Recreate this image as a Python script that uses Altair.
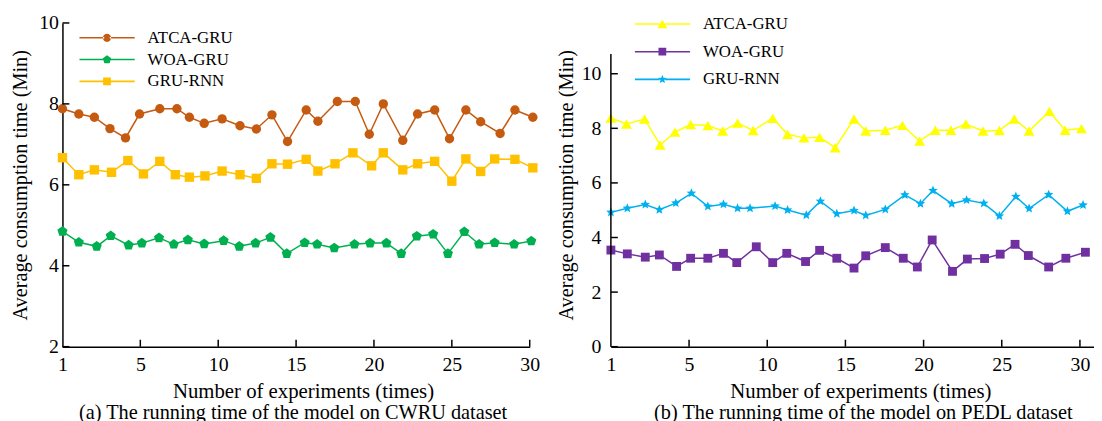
import altair as alt
import pandas as pd

# ---------------- data ----------------
x_tick_labels = [1, 5, 10, 15, 20, 25, 30]
series_names = ["ATCA-GRU", "WOA-GRU", "GRU-RNN"]

# panel (a): CWRU  (x = position along the experiment axis, in tick-interval units)
a_atca_x = [0.00, 0.21, 0.41, 0.61, 0.81, 0.99, 1.25, 1.47, 1.63, 1.82, 2.05, 2.28, 2.49, 2.69, 2.89,
            3.13, 3.28, 3.53, 3.76, 3.94, 4.12, 4.37, 4.56, 4.78, 4.97, 5.18, 5.37, 5.62, 5.81, 6.04]
a_atca_y = [7.88, 7.75, 7.67, 7.39, 7.16, 7.75, 7.88, 7.88, 7.67, 7.52, 7.63, 7.46, 7.38, 7.73, 7.07,
            7.85, 7.57, 8.06, 8.06, 7.25, 8.00, 7.10, 7.75, 7.85, 7.14, 7.85, 7.56, 7.27, 7.85, 7.67]
a_woa_x = [0.00, 0.21, 0.44, 0.62, 0.85, 1.02, 1.24, 1.43, 1.61, 1.82, 2.07, 2.27, 2.48, 2.67, 2.88,
           3.11, 3.27, 3.49, 3.75, 3.95, 4.16, 4.35, 4.55, 4.76, 4.95, 5.16, 5.35, 5.55, 5.80, 6.02]
a_woa_y = [4.85, 4.58, 4.48, 4.74, 4.51, 4.56, 4.69, 4.53, 4.64, 4.54, 4.62, 4.48, 4.56, 4.70, 4.30,
           4.57, 4.53, 4.44, 4.53, 4.56, 4.56, 4.30, 4.73, 4.78, 4.30, 4.84, 4.53, 4.57, 4.53, 4.61]
a_gru_x = [0.00, 0.21, 0.41, 0.63, 0.84, 1.04, 1.25, 1.45, 1.63, 1.83, 2.05, 2.28, 2.49, 2.69, 2.89,
           3.13, 3.28, 3.50, 3.73, 3.97, 4.12, 4.37, 4.56, 4.78, 5.00, 5.18, 5.37, 5.55, 5.81, 6.04]
a_gru_y = [6.67, 6.25, 6.37, 6.31, 6.60, 6.27, 6.58, 6.25, 6.19, 6.22, 6.34, 6.25, 6.16, 6.52, 6.51,
           6.63, 6.34, 6.52, 6.79, 6.47, 6.79, 6.37, 6.52, 6.58, 6.09, 6.64, 6.33, 6.64, 6.63, 6.42]

# panel (b): PEDL
b_atca_x = [0.00, 0.20, 0.43, 0.63, 0.82, 1.02, 1.24, 1.43, 1.62, 1.82, 2.07, 2.26, 2.47, 2.67, 2.87,
            3.11, 3.26, 3.51, 3.73, 3.95, 4.15, 4.35, 4.54, 4.76, 4.97, 5.16, 5.35, 5.61, 5.81, 6.02]
b_atca_y = [8.38, 8.16, 8.34, 7.39, 7.86, 8.14, 8.10, 7.90, 8.19, 7.92, 8.37, 7.78, 7.65, 7.67, 7.29,
            8.34, 7.90, 7.93, 8.11, 7.53, 7.93, 7.93, 8.16, 7.90, 7.92, 8.34, 7.90, 8.62, 7.93, 7.99]
b_woa_x = [0.00, 0.21, 0.44, 0.62, 0.84, 1.02, 1.24, 1.44, 1.61, 1.86, 2.07, 2.25, 2.49, 2.67, 2.89,
           3.11, 3.26, 3.51, 3.74, 3.92, 4.11, 4.37, 4.56, 4.78, 4.98, 5.17, 5.34, 5.60, 5.82, 6.07]
b_woa_y = [3.54, 3.40, 3.28, 3.36, 2.94, 3.24, 3.24, 3.42, 3.08, 3.66, 3.08, 3.42, 3.12, 3.53, 3.24,
           2.88, 3.33, 3.63, 3.24, 2.92, 3.91, 2.76, 3.21, 3.23, 3.39, 3.75, 3.34, 2.92, 3.24, 3.46]
b_gru_x = [0.00, 0.21, 0.44, 0.62, 0.83, 1.03, 1.24, 1.44, 1.62, 1.78, 2.10, 2.26, 2.50, 2.68, 2.89,
           3.11, 3.26, 3.51, 3.76, 3.96, 4.12, 4.36, 4.55, 4.77, 4.97, 5.18, 5.35, 5.60, 5.84, 6.04]
b_gru_y = [4.92, 5.07, 5.21, 5.02, 5.26, 5.62, 5.14, 5.22, 5.07, 5.07, 5.15, 5.01, 4.82, 5.33, 4.87,
           4.99, 4.81, 5.03, 5.56, 5.24, 5.72, 5.24, 5.37, 5.25, 4.79, 5.50, 5.06, 5.57, 4.96, 5.19]

a_y_ticks = [2, 4, 6, 8, 10]
b_y_ticks = [0, 2, 4, 6, 8, 10]
b_y_axis_top = 10.72

a_colors = ["#C55A11", "#00B050", "#FFC000"]
b_colors = ["#FFFF00", "#7030A0", "#00B0F0"]

# ---------------- styling helpers ----------------
FONT = "Liberation Serif"
PENTAGON = [(0, -1), (0.951, -0.309), (0.588, 0.809), (-0.588, 0.809), (-0.951, -0.309)]
STAR = [(0, -1), (0.265, -0.364), (0.951, -0.309), (0.428, 0.139), (0.588, 0.809), (0, 0.45),
        (-0.588, 0.809), (-0.428, 0.139), (-0.951, -0.309), (-0.265, -0.364)]
SQUARE = [(-1, -1), (1, -1), (1, 1), (-1, 1)]
TRIANGLE = [(0, -0.866), (1, 0.866), (-1, 0.866)]


def poly(pts, k):
    return "M" + "L".join(f"{x * k:.3f},{y * k:.3f}" for x, y in pts) + "Z"


def circ(r):
    return f"M{-r:.3f},0A{r:.3f},{r:.3f} 0 1,0 {r:.3f},0A{r:.3f},{r:.3f} 0 1,0 {-r:.3f},0Z"


LINE_SEG = "M-1,-0.028H-0.1V0.028H-1ZM0.1,-0.028H1V0.028H0.1Z"

label_expr = "[" + ",".join(f"'{v}'" for v in x_tick_labels) + "][round(datum.value)]"


def panel(xs_list, ys_list, colors, shapes, sizes, legend_marks, xdom, ydom, yticks,
          width, height, caption, cap_dx, x_title_dx, leg_x, leg_y, row_pad, y_lab_pad,
          y_title_pad, y_axis_line=None):
    X = alt.X("x:Q", scale=alt.Scale(domain=xdom, nice=False, zero=False),
              axis=alt.Axis(values=list(range(len(x_tick_labels))), labelExpr=label_expr,
                            title="Number of experiments (times)", ticks=False, grid=False,
                            labelPadding=8, titlePadding=6, labelFlush=False, labelOverlap=False,
                            titleX=width / 2 + x_title_dx,
                            domainColor="black", domainWidth=1.5,
                            labelFont=FONT, labelFontSize=20, labelColor="black",
                            titleFont=FONT, titleFontSize=21, titleFontWeight="normal",
                            titleColor="black"))
    Y = alt.Y("y:Q", scale=alt.Scale(domain=ydom, nice=False, zero=False),
              axis=alt.Axis(values=yticks, title="Average consumption time (Min)", ticks=False,
                            grid=False, labelPadding=y_lab_pad, titlePadding=y_title_pad,
                            labelFlush=False, labelOverlap=False,
                            domain=y_axis_line is None, domainColor="black", domainWidth=1.5,
                            labelFont=FONT, labelFontSize=20, labelColor="black",
                            titleFont=FONT, titleFontSize=20.5, titleFontWeight="normal",
                            titleColor="black"))
    layers = []
    for xs, ys, c, shp, sz in zip(xs_list, ys_list, colors, shapes, sizes):
        df = pd.DataFrame({"x": xs, "y": ys})
        base = alt.Chart(df).encode(x=X, y=Y)
        layers.append(base.mark_line(color=c, strokeWidth=1.5))
        layers.append(base.mark_point(shape=shp, size=sz, filled=True, color=c, opacity=1))
    # inward ticks
    xt = pd.DataFrame({"x": list(range(1, len(x_tick_labels)))})
    layers.append(alt.Chart(xt).mark_rule(color="black", strokeWidth=1.5).encode(
        x=X, y=alt.value(height), y2=alt.value(height - 7)))
    yt = pd.DataFrame({"y": yticks})
    layers.append(alt.Chart(yt).mark_rule(color="black", strokeWidth=1.5).encode(
        y=Y, x=alt.value(0), x2=alt.value(7)))
    if y_axis_line is not None:
        yl = pd.DataFrame({"y": [ydom[0]], "y2": [y_axis_line]})
        layers.append(alt.Chart(yl).mark_rule(color="black", strokeWidth=1.5).encode(
            y=Y, y2="y2:Q", x=alt.value(0)))
    # legend (symbol = line + marker)
    leg_paths = [LINE_SEG + m for m in legend_marks]
    legend = alt.Legend(title=None, orient="none", legendX=leg_x, legendY=leg_y, padding=0,
                        symbolSize=56 * 56, symbolStrokeWidth=0, symbolOpacity=1,
                        labelFont=FONT, labelFontSize=17, labelColor="black", labelOffset=13,
                        rowPadding=row_pad, clipHeight=17, labelLimit=300)
    ldf = pd.DataFrame({"x": [0.0] * 3, "y": [ydom[0]] * 3, "series": series_names})
    layers.append(alt.Chart(ldf).transform_filter("false").mark_point(filled=True, opacity=1).encode(
        x=X, y=Y,
        color=alt.Color("series:N", scale=alt.Scale(domain=series_names, range=colors), legend=legend),
        shape=alt.Shape("series:N", scale=alt.Scale(domain=series_names, range=leg_paths), legend=legend)))
    return alt.layer(*layers).properties(
        width=width, height=height,
        title=alt.TitleParams(caption, orient="bottom", anchor="middle", font=FONT, fontSize=20.5,
                              fontWeight="normal", color="black", offset=2, dx=cap_dx))


left = panel([a_atca_x, a_woa_x, a_gru_x], [a_atca_y, a_woa_y, a_gru_y], a_colors,
             ["circle", poly(PENTAGON, 1), "square"], [90, 115, 90],
             [circ(0.15), poly(PENTAGON, 0.16), poly(SQUARE, 0.14)],
             [0, 6], [2, 10], a_y_ticks, 472, 327,
             "(a) The running time of the model on CWRU dataset", -3, 7,
             17, 6.5, 4, 4, 8)

right = panel([b_atca_x, b_woa_x, b_gru_x], [b_atca_y, b_woa_y, b_gru_y], b_colors,
              ["triangle-up", "square", poly(STAR, 1)], [120, 80, 100],
              [poly(TRIANGLE, 0.18), poly(SQUARE, 0.14), poly(STAR, 0.16)],
              [0, 6.18], [0, 11.86], b_y_ticks, 488, 327,
              "(b) The running time of the model on PEDL dataset", 11, 8,
              24, -7.5, 10, 10, 5, y_axis_line=b_y_axis_top)

chart = alt.hconcat(left, right, spacing=82, bounds="flush").resolve_scale(
    color="independent", shape="independent").properties(
    padding={"left": 3, "top": 3, "right": 0, "bottom": 0}, background="white"
).configure_view(strokeWidth=0)

chart.save("out.html", embed_options={"renderer": "svg", "actions": False})
